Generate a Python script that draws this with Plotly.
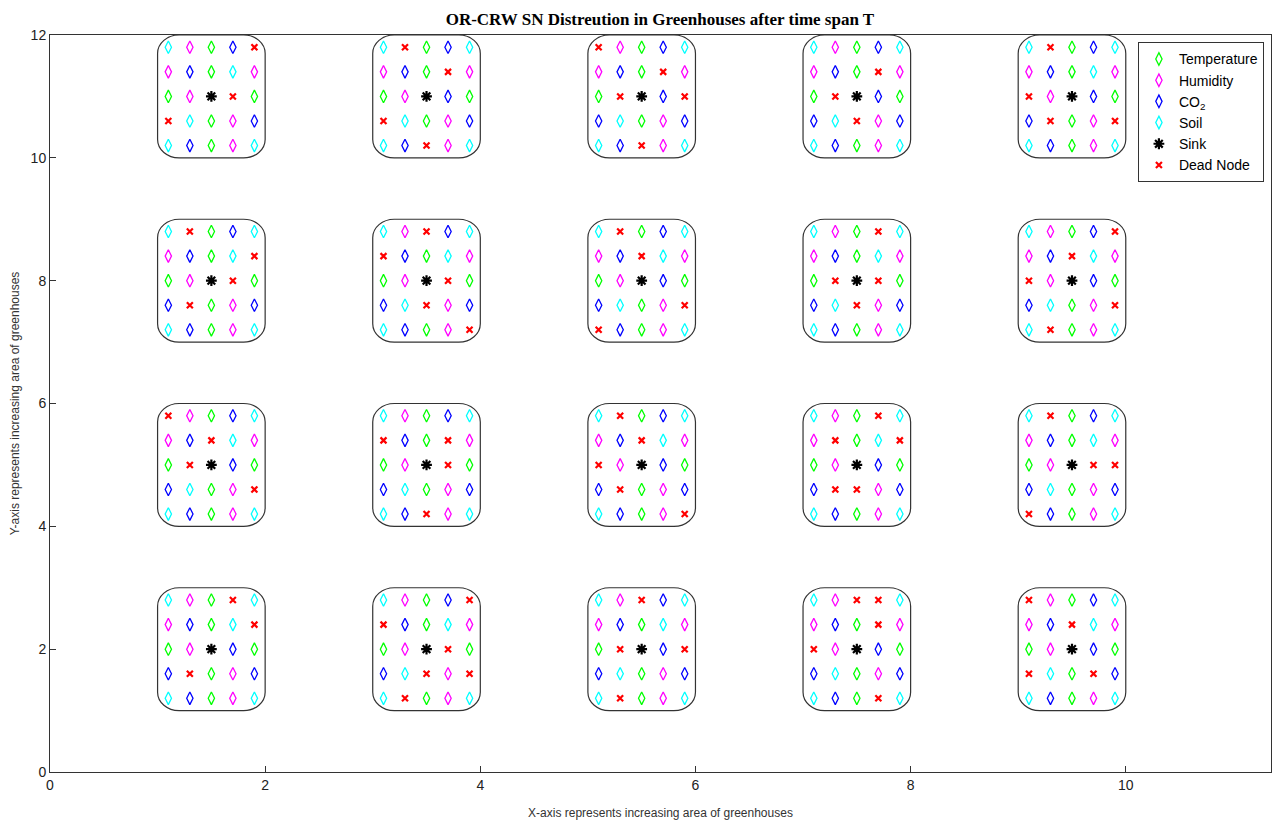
import plotly.graph_objects as go

# ---- data ----
gh_x = [1.5, 3.5, 5.5, 7.5, 9.5]          # greenhouse centre x
gh_y = [11, 8, 5, 2]                       # greenhouse centre y
node_dx = [-0.4, -0.2, 0.0, 0.2, 0.4]      # node column offsets
node_dy = [0.8, 0.4, 0.0, -0.4, -0.8]      # node row offsets
# base layout of sensor types inside a greenhouse (T=temp, H=humidity, C=CO2, S=soil, K=sink)
base_grid = ["SHTCS",
             "HCTSH",
             "THKCT",
             "CSTHC",
             "SCTHS"]
# dead nodes (row, col) for each greenhouse, row-major over gh_y then gh_x
dead_nodes = [
    [(0, 4), (2, 3), (3, 0)],
    [(0, 1), (1, 3), (3, 0), (4, 2)],
    [(0, 0), (1, 3), (2, 1), (2, 4), (4, 2)],
    [(1, 3), (2, 1), (3, 2)],
    [(0, 1), (2, 0), (3, 1), (3, 4)],
    [(0, 1), (1, 4), (2, 3), (3, 1)],
    [(0, 2), (1, 0), (2, 3), (3, 2), (4, 4)],
    [(0, 1), (1, 2), (3, 4), (4, 0)],
    [(0, 3), (2, 1), (2, 3), (3, 2)],
    [(0, 4), (1, 2), (2, 0), (3, 4), (4, 1)],
    [(0, 0), (1, 2), (2, 1), (3, 4)],
    [(1, 0), (1, 3), (2, 3), (4, 2)],
    [(0, 1), (1, 2), (2, 0), (3, 1), (4, 4)],
    [(0, 3), (1, 1), (1, 4), (3, 1), (3, 2)],
    [(0, 1), (2, 3), (2, 4), (4, 0)],
    [(0, 3), (1, 4), (3, 1)],
    [(0, 4), (1, 0), (2, 3), (3, 2), (3, 4), (4, 1)],
    [(0, 2), (2, 1), (2, 4), (4, 1)],
    [(0, 2), (0, 3), (1, 3), (2, 0), (4, 3)],
    [(0, 0), (1, 2), (3, 0), (3, 3)],
]
type_keys = ["T", "H", "C", "S", "K", "X"]
type_names = ["Temperature", "Humidity", "CO<sub>2</sub>", "Soil", "Sink", "Dead Node"]
type_colors = ["#00ff00", "#ff00ff", "#0000ff", "#00ffff", "#000000", "#ff0000"]
x_ticks = [0, 2, 4, 6, 8, 10]
y_ticks = [0, 2, 4, 6, 8, 10, 12]

# ---- build points ----
pts = {k: ([], []) for k in type_keys}
g = 0
for cy in gh_y:
    for cx in gh_x:
        dead = set(dead_nodes[g])
        for r, dy in enumerate(node_dy):
            for c, dx in enumerate(node_dx):
                k = base_grid[r][c]
                if (r, c) in dead:
                    k = "X"
                pts[k][0].append(cx + dx)
                pts[k][1].append(cy + dy)
        g += 1

symbols = {"T": "diamond-tall-open", "H": "diamond-tall-open", "C": "diamond-tall-open",
           "S": "diamond-tall-open", "K": "asterisk-open", "X": "x-thin-open"}
sizes = {"T": 9, "H": 9, "C": 9, "S": 9, "K": 9, "X": 6}
widths = {"T": 1.3, "H": 1.3, "C": 1.3, "S": 1.3, "K": 2.2, "X": 2.2}

fig = go.Figure()
for k, name, col in zip(type_keys, type_names, type_colors):
    fig.add_trace(go.Scatter(
        x=pts[k][0], y=pts[k][1], mode="markers", name=name,
        marker=dict(symbol=symbols[k], size=sizes[k], color=col,
                    line=dict(color=col, width=widths[k]))))

# rounded rectangles for greenhouses
half_w, half_h, rx, ry = 0.5, 1.0, 0.2, 0.3
kap = 0.5523
def rounded(cx, cy):
    x0, x1, y0, y1 = cx - half_w, cx + half_w, cy - half_h, cy + half_h
    p = f"M {x0+rx},{y0} L {x1-rx},{y0} "
    p += f"C {x1-rx+kap*rx},{y0} {x1},{y0+ry-kap*ry} {x1},{y0+ry} "
    p += f"L {x1},{y1-ry} "
    p += f"C {x1},{y1-ry+kap*ry} {x1-rx+kap*rx},{y1} {x1-rx},{y1} "
    p += f"L {x0+rx},{y1} "
    p += f"C {x0+rx-kap*rx},{y1} {x0},{y1-ry+kap*ry} {x0},{y1-ry} "
    p += f"L {x0},{y0+ry} "
    p += f"C {x0},{y0+ry-kap*ry} {x0+rx-kap*rx},{y0} {x0+rx},{y0} Z"
    return p

for cy in gh_y:
    for cx in gh_x:
        fig.add_shape(type="path", path=rounded(cx, cy), xref="x", yref="y",
                      line=dict(color="#333333", width=1.2), layer="below")

axis_common = dict(showgrid=False, zeroline=False, showline=True, linecolor="#333333",
                   linewidth=1, mirror=True, ticks="inside", ticklen=6, tickcolor="#333333",
                   automargin=False,
                   tickfont=dict(family="Liberation Sans, Arial", size=14, color="#222222"))
fig.update_xaxes(range=[0, 11.35], tickvals=x_ticks,
                 title=dict(text="X-axis represents increasing area of greenhouses",
                            font=dict(family="Liberation Sans, Arial", size=12, color="#333333"),
                            standoff=16), **axis_common)
fig.update_yaxes(range=[0, 12], tickvals=y_ticks,
                 title=dict(text="Y-axis represents increasing area of greenhouses",
                            font=dict(family="Liberation Sans, Arial", size=12, color="#333333"),
                            standoff=8), **axis_common)

fig.update_layout(
    width=1274, height=823,
    margin=dict(l=50, r=3, t=35, b=51, autoexpand=False),
    plot_bgcolor="white", paper_bgcolor="white",
    title=dict(text="<b>OR-CRW SN Distreution in Greenhouses after time span T</b>",
               x=0.518, xanchor="center", y=0.984, yanchor="top",
               font=dict(family="Liberation Serif, Times New Roman", size=17, color="#000000")),
    legend=dict(x=0.891, y=0.99, xanchor="left", yanchor="top",
                bgcolor="white", bordercolor="#333333", borderwidth=1,
                font=dict(family="Liberation Sans, Arial", size=14, color="#000000"),
                itemwidth=30, tracegroupgap=0),
    showlegend=True,
)
fig.write_html("out.html", config={"displayModeBar": False},
               post_script="document.body.style.margin='0px';")
